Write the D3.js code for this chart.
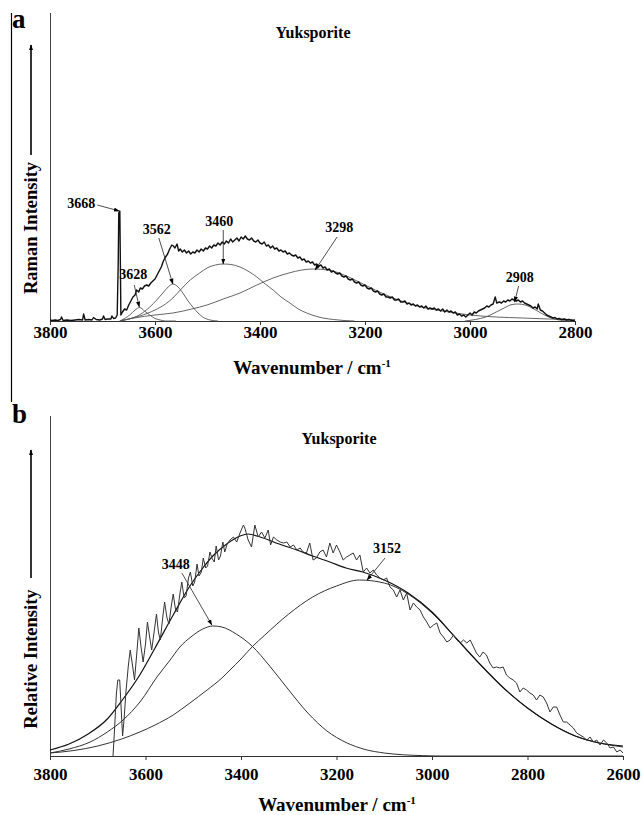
<!DOCTYPE html>
<html><head><meta charset="utf-8">
<script src="https://cdn.jsdelivr.net/npm/d3@7"></script>
<style>
body{margin:0;background:#fff}
svg{display:block}
text{font-family:"Liberation Serif","Times New Roman",serif;font-weight:bold;fill:#000}
</style>
</head><body>
<svg id="c" width="643" height="815"></svg>
<script>
// ---------------- DATA ----------------
const chartTitle = "Yuksporite";
const ticksA = [3800, 3600, 3400, 3200, 3000, 2800];
const ticksB = [3800, 3600, 3400, 3200, 3000, 2800, 2600];

// Panel a: measured Raman spectrum [wavenumber, intensity]
const spectrumA = [[3800,1],[3796,0.5],[3790,1],[3785,0.5],[3780,1.5],[3778,4],[3775,0.5],[3768,1],[3760,0.5],[3752,1],[3745,1.5],[3738,1],[3736,7],[3733,1],[3726,1.5],[3720,1],[3717,3.5],[3712,1.5],[3705,1],[3700,2],[3698,5],[3695,1.5],[3690,2],[3684,2],[3682,5],[3679,2.5],[3675,3],[3672,6],[3670,60],[3669,108],[3667,110],[3666,60],[3665,6],[3662,9],[3658,12],[3654,11],[3650,16],[3646,20],[3642,24],[3638,26],[3635,31],[3631,29],[3628,33],[3624,32],[3620,35],[3616,36],[3612,35],[3608,38],[3604,40],[3600,42],[3596,46],[3592,50],[3588,54],[3584,60],[3580,64],[3576,67],[3572,72],[3568,76],[3565,75],[3562,73],[3558,77],[3555,70],[3552,72],[3548,69],[3544,71],[3540,68],[3536,70],[3532,67],[3528,69],[3524,68],[3520,71],[3516,69],[3512,72],[3508,70],[3504,73],[3500,72],[3496,75],[3492,73],[3488,76],[3484,75],[3480,78],[3476,76],[3472,79],[3468,77],[3464,80],[3460,78],[3456,82],[3452,79],[3448,81],[3444,83],[3440,80],[3436,84],[3432,82],[3428,85],[3424,82],[3420,81],[3416,83],[3412,80],[3408,79],[3404,81],[3400,78],[3396,77],[3392,79],[3388,75],[3384,76],[3380,73],[3376,75],[3372,72],[3368,73],[3364,70],[3360,71],[3356,69],[3352,70],[3348,67],[3344,68],[3340,66],[3336,65],[3332,66],[3328,63],[3324,64],[3320,61],[3316,62],[3312,59],[3308,60],[3304,58],[3300,59],[3296,56],[3292,57],[3288,55],[3284,56],[3280,53],[3276,54],[3272,51],[3268,52],[3264,49],[3260,50],[3256,48],[3252,47],[3248,48],[3244,45],[3240,44],[3236,45],[3232,42],[3228,41],[3224,42],[3220,39],[3216,38],[3212,39],[3208,36],[3204,35],[3200,36],[3196,33],[3192,32],[3188,33],[3184,30],[3180,29],[3176,30],[3172,27],[3168,26],[3164,27],[3160,24],[3156,24],[3152,23],[3148,24],[3144,21],[3140,21],[3136,22],[3132,19],[3128,19],[3124,20],[3120,17],[3116,18],[3112,16],[3108,17],[3104,15],[3100,16],[3096,14],[3092,15],[3088,13],[3084,15],[3080,12],[3076,13],[3072,12],[3068,13],[3064,11],[3060,12],[3056,10],[3052,12],[3048,9],[3044,11],[3040,9],[3036,10],[3032,8],[3028,9],[3024,6],[3020,7],[3016,5],[3012,6],[3008,4],[3004,6],[3000,8],[2996,6],[2992,9],[2988,8],[2984,10],[2980,11],[2976,12],[2972,13],[2968,15],[2964,14],[2960,16],[2956,17],[2952,24],[2949,18],[2944,19],[2940,18],[2936,20],[2932,19],[2928,21],[2924,20],[2920,22],[2916,21],[2912,20],[2908,21],[2904,19],[2900,20],[2896,18],[2892,17],[2888,16],[2884,15],[2880,13],[2876,14],[2872,12],[2870,17],[2866,11],[2862,10],[2858,8],[2854,6],[2850,5],[2846,4],[2842,3],[2838,3.5],[2834,2],[2830,2.5],[2826,1.5],[2820,2],[2816,1],[2812,1.5],[2806,0.5],[2800,0]];

// Panel a: fitted component bands
const bandA3628 = [[3667,0],[3658,2.5],[3648,6],[3638,11],[3629,13.5],[3620,10],[3610,6],[3600,2.5],[3590,1],[3580,0],[3560,0]];
const bandA3562 = [[3667,0],[3650,2],[3630,6],[3610,14],[3595,22],[3585,28],[3575,34],[3566,37],[3556,34],[3547,28],[3537,20],[3528,14],[3518,8],[3509,4],[3495,1],[3480,0]];
const bandA3460 = [[3667,0],[3650,2],[3629,5],[3600,11],[3580,17],[3566,23],[3550,32],[3533,41],[3515,48],[3501,53],[3485,56],[3470,57],[3455,56.5],[3438,54],[3420,49],[3406,44],[3390,37],[3375,31],[3360,24],[3343,18],[3327,12],[3311,8],[3295,5],[3280,3],[3260,1.5],[3240,0.5],[3220,0]];
const bandA3298 = [[3667,0],[3640,3],[3600,6],[3566,8],[3530,12],[3501,16],[3470,22],[3438,28],[3406,36],[3375,43],[3345,48],[3320,51],[3298,52],[3270,51],[3240,46],[3200,36],[3160,26],[3120,18],[3080,12.5],[3040,9],[3000,6],[2950,4],[2900,3],[2850,2],[2800,1.5]];
const bandA2908 = [[3010,0],[2990,1.5],[2970,4],[2950,9],[2935,13],[2920,16.5],[2908,17],[2895,16],[2880,12.5],[2865,8],[2850,4],[2835,1.5],[2820,0.5],[2800,0]];

// Panel a peak labels: text, arrow-tip wavenumber, arrow-tip intensity
const peakLabelsA = ["3668", "3628", "3562", "3460", "3298", "2908"];
const peakTipWnA  = [3668, 3630, 3566, 3470, 3295, 2915];
const peakTipIA   = [110, 14, 37, 57, 51, 19];

// Panel b: measured spectrum
const spectrumB = [[3668,0],[3665,25],[3661,62],[3658,76],[3654,76],[3651,48],[3648,20],[3645,36],[3641,64],[3636,90],[3632,106],[3627,90],[3623,76],[3618,104],[3614,128],[3609,108],[3605,94],[3600,112],[3596,134],[3591,118],[3587,106],[3582,124],[3577,142],[3573,124],[3569,116],[3564,138],[3560,154],[3555,138],[3551,132],[3546,150],[3542,162],[3537,146],[3533,144],[3528,162],[3524,174],[3519,158],[3515,160],[3510,178],[3506,184],[3501,170],[3497,174],[3492,192],[3488,180],[3483,184],[3479,198],[3474,188],[3470,190],[3465,204],[3461,198],[3456,194],[3452,210],[3447,196],[3443,200],[3438,214],[3434,204],[3429,212],[3423,216],[3416,219],[3409,214],[3402,223],[3395,231],[3392,228],[3385,216],[3378,209],[3371,231],[3364,219],[3357,224],[3350,218],[3343,226],[3338,211],[3332,219],[3325,216],[3318,214],[3311,213],[3304,214],[3297,209],[3290,211],[3283,206],[3276,208],[3270,204],[3263,203],[3256,213],[3249,196],[3242,198],[3235,204],[3228,206],[3221,199],[3214,213],[3207,203],[3200,211],[3193,204],[3186,196],[3179,199],[3172,201],[3165,203],[3158,196],[3151,201],[3144,184],[3137,188],[3130,183],[3123,186],[3116,181],[3109,178],[3102,176],[3095,178],[3088,169],[3081,166],[3074,159],[3067,166],[3060,156],[3053,163],[3046,146],[3039,153],[3032,149],[3025,146],[3018,139],[3011,134],[3004,128],[2997,131],[2990,133],[2983,123],[2976,119],[2969,114],[2962,116],[2955,121],[2948,116],[2941,113],[2934,116],[2927,113],[2920,116],[2913,109],[2907,103],[2900,99],[2893,104],[2886,101],[2879,93],[2872,88],[2865,89],[2858,88],[2851,89],[2844,81],[2837,78],[2830,76],[2823,73],[2816,64],[2809,68],[2802,66],[2795,63],[2788,61],[2781,56],[2774,61],[2767,59],[2760,53],[2753,44],[2746,49],[2739,49],[2732,41],[2725,34],[2718,34],[2711,31],[2704,28],[2697,23],[2690,21],[2683,19],[2676,16],[2669,19],[2662,14],[2655,16],[2648,11],[2641,16],[2634,13],[2627,8],[2620,9],[2613,4],[2606,6],[2600,3]];

// Panel b: fitted envelope and component bands
const fitB = [[3800,6],[3760,12],[3720,22],[3680,37],[3650,55],[3612,81],[3580,108],[3542,141],[3507,170],[3480,188],[3459,200],[3430,212],[3402,220],[3385,222],[3360,219],[3320,212],[3283,206],[3250,200],[3214,194],[3180,188],[3145,184],[3100,176],[3050,163],[3000,144],[2950,118],[2900,92],[2850,68],[2800,48],[2750,32],[2700,20],[2650,13],[2600,10]];
const bandB3448 = [[3800,3],[3760,7],[3716,14],[3680,24],[3647,36],[3610,55],[3576,79],[3550,95],[3528,109],[3505,119],[3480,127],[3459,130],[3440,129],[3410,122],[3377,110],[3340,90],[3300,66],[3260,43],[3220,25],[3180,13.5],[3140,6.5],[3100,3],[3060,1.2],[3020,0.4],[2980,0],[2600,0]];
const bandB3152 = [[3800,3],[3750,5.5],[3700,10],[3650,17],[3612,24],[3580,31],[3542,41],[3507,53],[3471,66],[3440,78],[3423,86],[3400,97],[3377,109],[3350,121],[3300,142],[3250,159],[3200,170],[3152,176],[3100,173],[3050,162],[3000,143],[2950,118],[2900,92],[2850,68],[2800,48],[2750,32],[2700,20],[2650,13],[2600,9]];

const peakLabelsB = ["3448", "3152"];
const peakTipWnB  = [3461, 3136];
const peakTipIB   = [131, 176];

// ---------------- DRAWING ----------------
const svg = d3.select("#c");
const defs = svg.append("defs");
defs.append("marker").attr("id","ahBig").attr("viewBox","0 0 10 10").attr("refX",9).attr("refY",5)
  .attr("markerWidth",6).attr("markerHeight",6).attr("markerUnits","userSpaceOnUse").attr("orient","auto")
  .append("path").attr("d","M0,1.5 L10,5 L0,8.5 Z").attr("fill","#000");

// outer frame line on the left
svg.append("line").attr("x1",11.5).attr("x2",11.5).attr("y1",13).attr("y2",402)
  .attr("stroke","#000").attr("stroke-width",1.2);

function panel(cfg){
  const x = d3.scaleLinear().domain([cfg.ticks[0], cfg.ticks[cfg.ticks.length-1]]).range([50, cfg.right]);
  const y = d3.scaleLinear().domain([0, cfg.yMax]).range([cfg.base, cfg.top]);
  const g = svg.append("g");

  const ax = d3.axisBottom(x).tickValues(cfg.ticks).tickSize(4).tickFormat(d3.format("d"));
  const axG = g.append("g").attr("transform",`translate(0,${cfg.base})`).call(ax);
  axG.select(".domain").attr("stroke","#333").attr("stroke-width",1);
  axG.selectAll(".tick line").attr("stroke","#333");
  axG.selectAll(".tick text").attr("y",cfg.tickDy).attr("dy",0)
     .style("font-family",'"Liberation Serif",serif').style("font-weight","bold")
     .style("font-size","17px").attr("fill","#000");
  g.append("line").attr("x1",50.5).attr("x2",50.5).attr("y1",cfg.top).attr("y2",cfg.base)
    .attr("stroke","#444").attr("stroke-width",1);

  const smooth = d3.line().x(d=>x(d[0])).y(d=>y(d[1])).curve(d3.curveMonotoneX);
  const raw = d3.line().x(d=>x(d[0])).y(d=>y(d[1]));

  cfg.bands.forEach(b=>{
    g.append("path").attr("d",smooth(b)).attr("fill","none").attr("stroke",cfg.bandColor).attr("stroke-width",cfg.bandWidth);
  });
  if (cfg.fit) g.append("path").attr("d",smooth(cfg.fit)).attr("fill","none").attr("stroke","#111").attr("stroke-width",1.2);
  g.append("path").attr("d",raw(cfg.spectrum)).attr("fill","none").attr("stroke",cfg.specColor).attr("stroke-width",cfg.specWidth).attr("stroke-linejoin","round");

  cfg.labels.forEach((t,i)=>{
    const tx = x(cfg.tipWn[i]), ty = y(cfg.tipI[i]);
    const o = cfg.offsets[i];
    g.append("line").attr("x1",tx+o[2]).attr("y1",ty+o[3]).attr("x2",tx).attr("y2",ty)
      .attr("stroke","#222").attr("stroke-width",0.8).attr("marker-end","url(#ahBig)");
    g.append("text").attr("x",tx+o[0]).attr("y",ty+o[1]).attr("text-anchor","middle")
      .style("font-size","14px").text(t);
  });

  g.append("text").attr("x",cfg.titleX).attr("y",cfg.titleY).attr("text-anchor","middle").style("font-size","16px").text(chartTitle);
  const xt = g.append("text").attr("x",cfg.xtX).attr("y",cfg.xtY).attr("text-anchor","middle").style("font-size","19px");
  xt.append("tspan").text("Wavenumber / cm");
  xt.append("tspan").attr("dy",-7).style("font-size","11px").text("-1");
  g.append("text").attr("transform",`translate(37,${cfg.ylY}) rotate(-90)`).attr("text-anchor","middle")
    .style("font-size","18.5px").text(cfg.yLabel);
  g.append("line").attr("x1",31).attr("x2",31).attr("y1",cfg.arrowFrom).attr("y2",cfg.arrowTo)
    .attr("stroke","#000").attr("stroke-width",1.6).attr("marker-end","url(#ahBig)");
  g.append("text").attr("x",12).attr("y",cfg.letterY).style("font-size","27px").text(cfg.letter);
}

panel({
  ticks: ticksA, right: 575, base: 321, top: 13, yMax: 308, tickDy: 17,
  spectrum: spectrumA, specColor:"#111", specWidth:1.4,
  bands:[bandA3628,bandA3562,bandA3460,bandA3298,bandA2908], bandColor:"#555", bandWidth:0.9,
  labels: peakLabelsA, tipWn: peakTipWnA, tipI: peakTipIA,
  offsets: [[-38,-3,-22,-6],[-6,-28,-5,-22],[-16,-50,-14,-46],[-4,-38,0,-34],[24,-38,22,-33],[5,-20,4,-16]],
  titleX: 313, titleY: 38, xtX: 312, xtY: 374, ylY: 228, yLabel: "Raman Intensity",
  arrowFrom: 155, arrowTo: 45, letter: "a", letterY: 28
});

panel({
  ticks: ticksB, right: 623, base: 756, top: 416, yMax: 340, tickDy: 24,
  spectrum: spectrumB, specColor:"#333", specWidth:1,
  bands:[bandB3448,bandB3152], bandColor:"#333", bandWidth:1,
  fit: fitB,
  labels: peakLabelsB, tipWn: peakTipWnB, tipI: peakTipIB,
  offsets: [[-36,-56,-30,-52],[20,-27,18,-22]],
  titleX: 339, titleY: 444, xtX: 337, xtY: 811, ylY: 659, yLabel: "Relative Intensity",
  arrowFrom: 578, arrowTo: 450, letter: "b", letterY: 423
});
</script>
</body></html>
